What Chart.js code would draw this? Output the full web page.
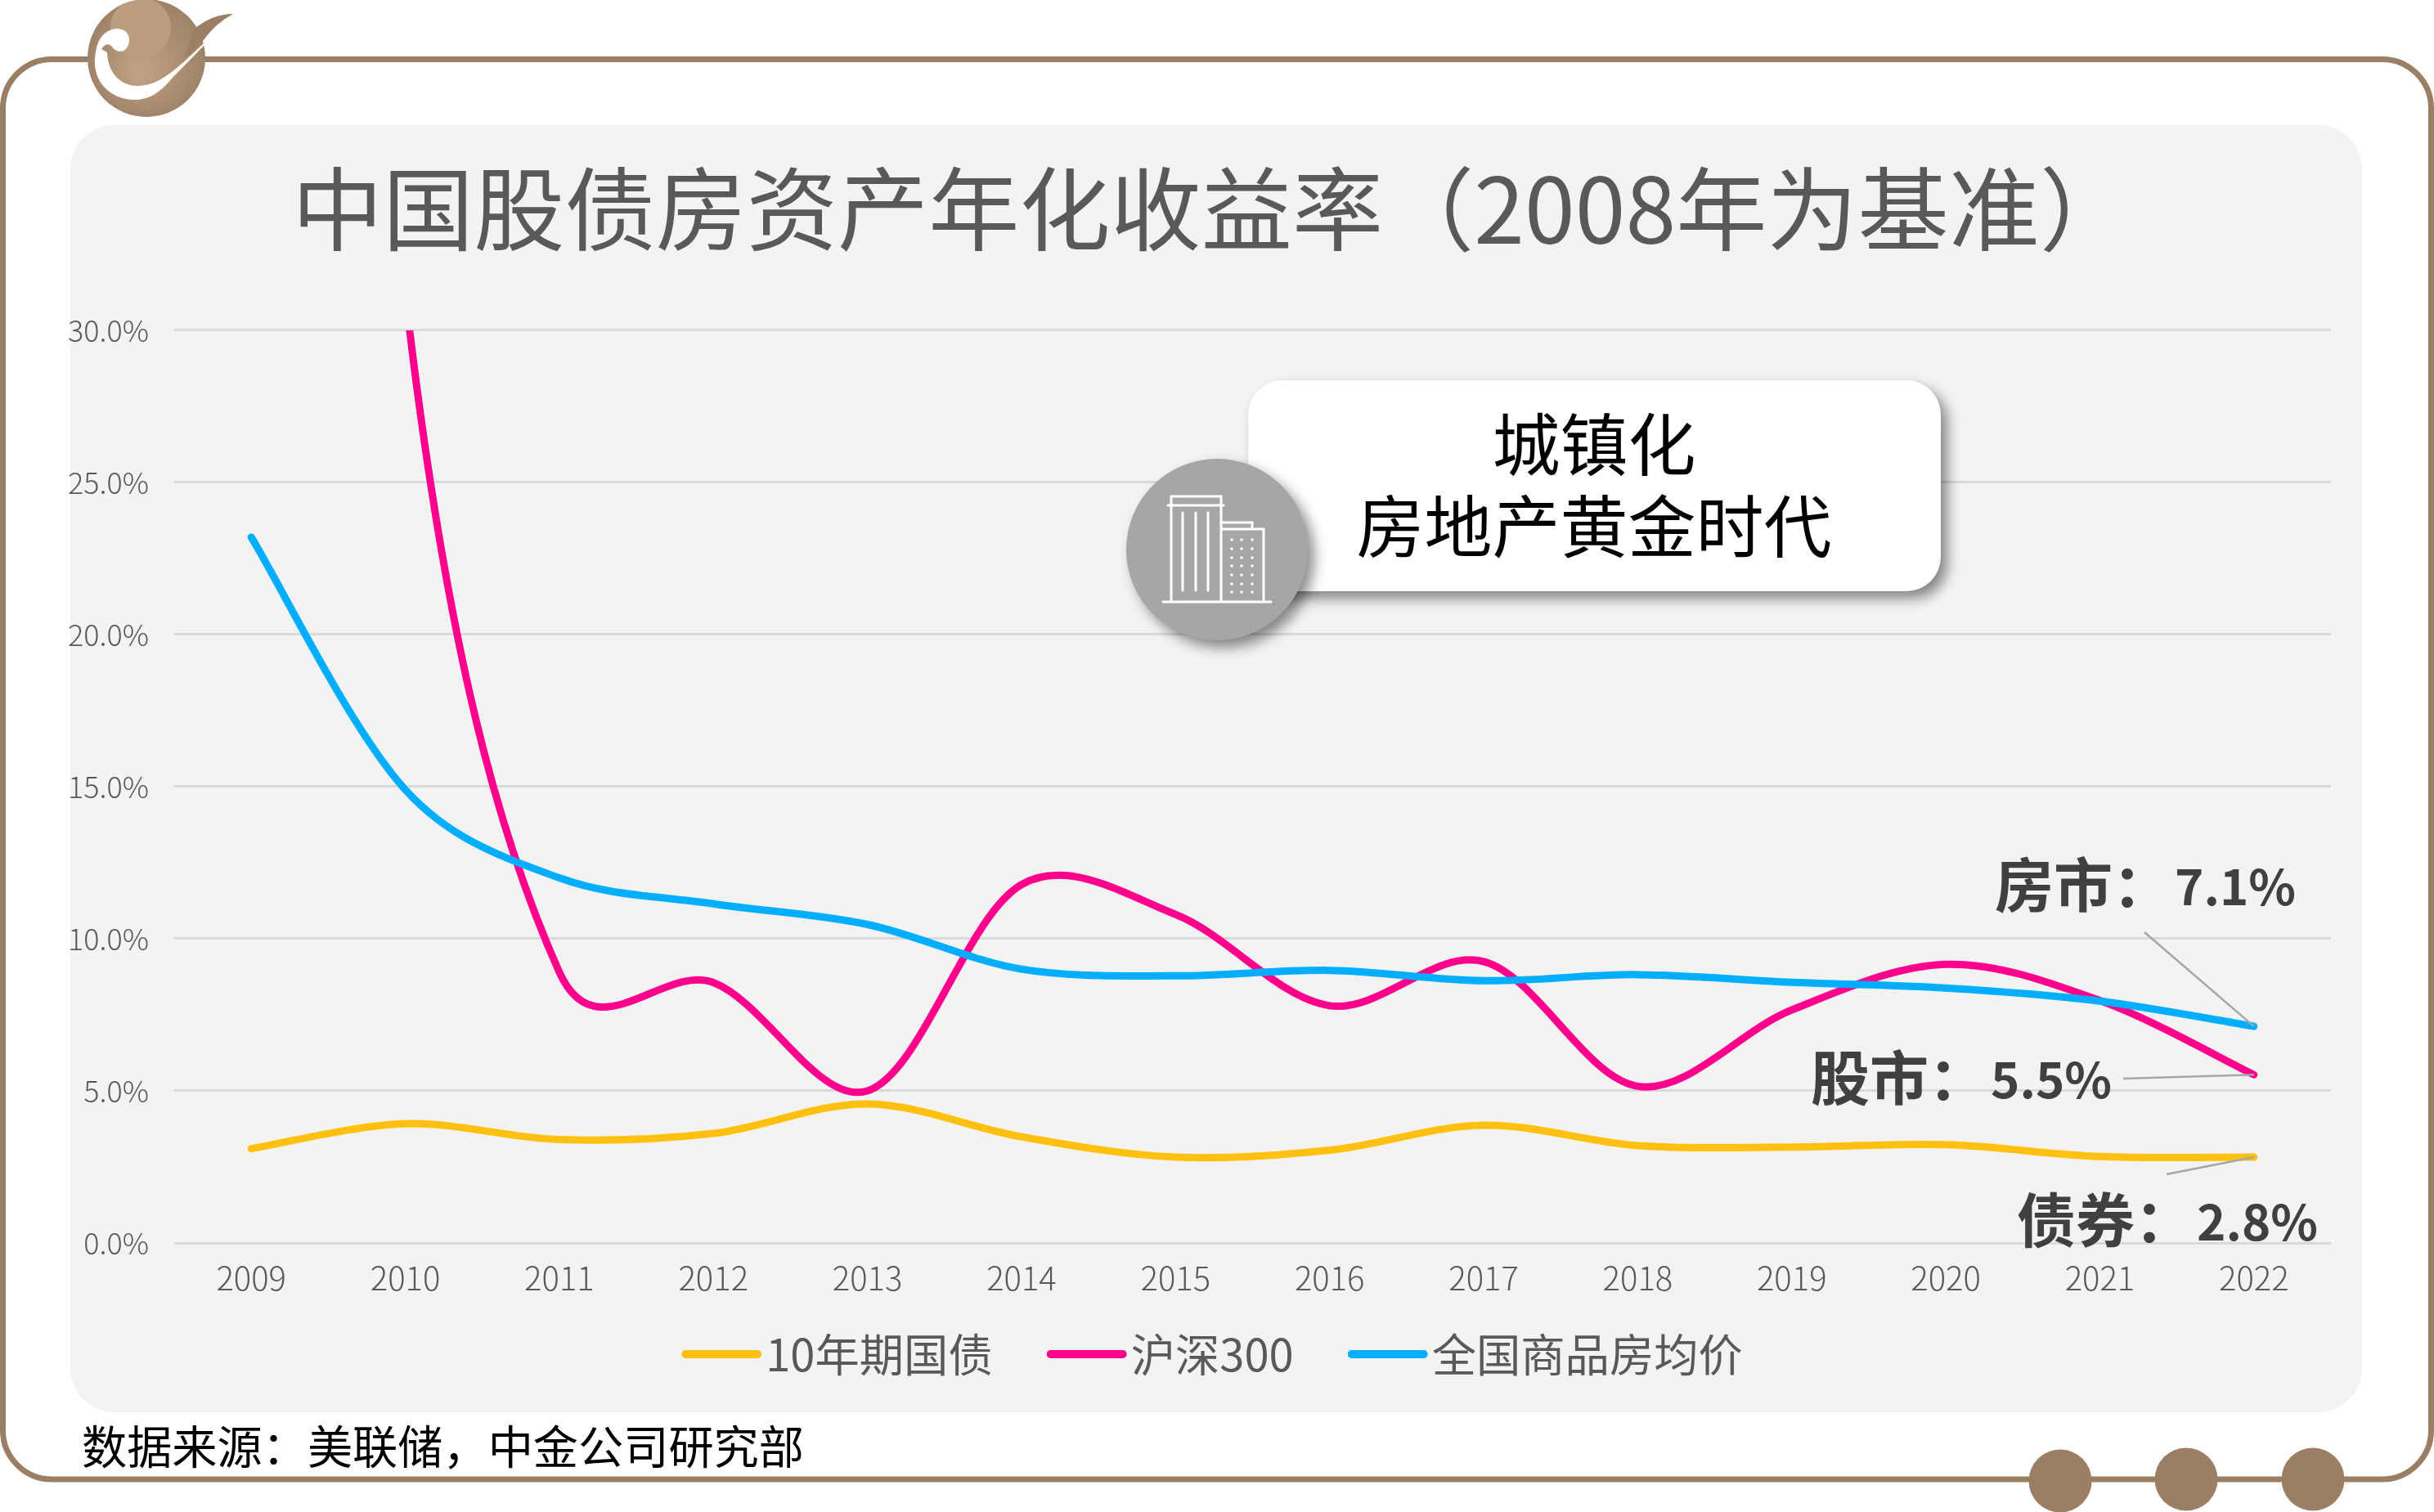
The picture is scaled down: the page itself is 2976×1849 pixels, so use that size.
<!DOCTYPE html>
<html lang="zh">
<head>
<meta charset="utf-8">
<title>中国股债房资产年化收益率</title>
<script src="https://cdn.jsdelivr.net/npm/chart.js@4"></script>
<style>
    html, body { margin: 0; padding: 0; background: #fff; }
    canvas { display: block; }
</style>
</head>
<body>
<canvas id="chartCanvas" width="2976" height="1849"></canvas>
<script>
const CJK_FONT = '"Noto Sans CJK SC", "Noto Sans", sans-serif';
const BROWN = '#9b7f65';

// Chart values
const years = ['2009', '2010', '2011', '2012', '2013', '2014', '2015', '2016', '2017', '2018', '2019', '2020', '2021', '2022'];
const bondValues = [3.1, 3.92, 3.4, 3.6, 4.57, 3.49, 2.82, 3.05, 3.87, 3.2, 3.15, 3.23, 2.84, 2.82];
// 2009 and 2010 are above the 30% axis limit and get clipped
const stockValues = [96.7, 31.2, 8.9, 8.56, 5.0, 11.78, 10.8, 7.8, 9.25, 5.15, 7.66, 9.16, 7.97, 5.53];
const houseValues = [23.2, 14.9, 12.0, 11.15, 10.47, 9.0, 8.78, 8.96, 8.62, 8.82, 8.57, 8.38, 7.95, 7.12];

const seriesNames = ['10年期国债', '沪深300', '全国商品房均价'];
const seriesColors = ['#ffc010', '#ff008c', '#00aeff'];

const chartTitle = '中国股债房资产年化收益率（2008年为基准）';
const sourceText = '数据来源：美联储，中金公司研究部';
const cardLines = ['城镇化', '房地产黄金时代'];
const calloutLabels = ['房市：', '股市：', '债券：'];
const calloutNumbers = ['7.1%', '5.5%', '2.8%'];

function roundRect(ctx, x, y, w, h, r) {
    ctx.beginPath();
    ctx.roundRect(x, y, w, h, r);
}

function drawLogo(ctx) {
    const grad = ctx.createRadialGradient(170, 90, 5, 179, 71, 80);
    grad.addColorStop(0, '#c0a283');
    grad.addColorStop(1, '#9b7f65');

    ctx.save();
    ctx.fillStyle = grad;
    ctx.beginPath();
    ctx.arc(179, 71, 72, 0, Math.PI * 2);
    ctx.fill();

    // wing
    ctx.fillStyle = BROWN;
    ctx.beginPath();
    ctx.moveTo(238, 35);
    ctx.quadraticCurveTo(260, 17, 285, 17);
    ctx.quadraticCurveTo(264, 28, 248, 50);
    ctx.lineTo(225, 72);
    ctx.closePath();
    ctx.fill();

    // lighter disc at the top
    ctx.save();
    ctx.beginPath();
    ctx.arc(179, 71, 72, 0, Math.PI * 2);
    ctx.clip();
    ctx.fillStyle = '#bb9e80';
    ctx.beginPath();
    ctx.arc(172, 34, 37, 0, Math.PI * 2);
    ctx.fill();
    ctx.restore();

    // white crescent with the bird
    ctx.fillStyle = '#fff';
    ctx.beginPath();
    ctx.moveTo(116, 72);
    ctx.quadraticCurveTo(118, 37, 143, 35);
    ctx.quadraticCurveTo(158, 36, 158, 50);
    ctx.quadraticCurveTo(156, 63, 146, 63);
    ctx.quadraticCurveTo(140, 62, 136, 56);
    ctx.quadraticCurveTo(130, 51, 124, 60);
    ctx.lineTo(131, 64);
    ctx.bezierCurveTo(132, 92, 150, 105, 168, 105);
    ctx.bezierCurveTo(195, 105, 215, 85, 249, 53);
    ctx.lineTo(249, 56);
    ctx.lineTo(210, 96);
    ctx.bezierCurveTo(195, 115, 180, 122, 165, 122);
    ctx.bezierCurveTo(135, 122, 114, 100, 116, 72);
    ctx.closePath();
    ctx.fill();
    ctx.restore();
}

function drawBuilding(ctx) {
    ctx.save();
    ctx.strokeStyle = '#fff';
    ctx.fillStyle = '#fff';
    ctx.lineWidth = 3;
    ctx.lineCap = 'round';
    const segments = [
        [1422, 736, 1554, 736],
        [1432, 736, 1432, 607], [1432, 607, 1493, 607], [1493, 607, 1493, 736],
        [1428, 618, 1496, 618],
        [1494, 639, 1531, 639], [1531, 639, 1531, 647],
        [1494, 647, 1545, 647], [1545, 647, 1545, 736],
        [1446, 627, 1446, 722], [1462, 627, 1462, 722], [1477, 627, 1477, 722]
    ];
    segments.forEach(function(s) {
        ctx.beginPath();
        ctx.moveTo(s[0], s[1]);
        ctx.lineTo(s[2], s[3]);
        ctx.stroke();
    });
    [1506, 1518, 1531].forEach(function(x) {
        [660, 671, 682, 692, 703, 714, 724].forEach(function(y) {
            ctx.beginPath();
            ctx.arc(x, y, 1.8, 0, Math.PI * 2);
            ctx.fill();
        });
    });
    ctx.restore();
}

function drawCard(ctx) {
    ctx.save();
    ctx.shadowColor = 'rgba(0, 0, 0, 0.45)';
    ctx.shadowBlur = 16;
    ctx.shadowOffsetX = 8;
    ctx.shadowOffsetY = 9;

    ctx.fillStyle = '#fff';
    roundRect(ctx, 1526, 465, 847, 258, 42);
    ctx.fill();

    ctx.fillStyle = '#a6a6a6';
    ctx.beginPath();
    ctx.arc(1488, 672, 111, 0, Math.PI * 2);
    ctx.fill();
    ctx.restore();

    drawBuilding(ctx);

    ctx.save();
    ctx.fillStyle = '#000';
    ctx.font = '83px ' + CJK_FONT;
    ctx.textAlign = 'center';
    ctx.textBaseline = 'middle';
    ctx.fillText(cardLines[0], 1949, 543);
    ctx.fillText(cardLines[1], 1949, 643);
    ctx.restore();
}

// Leader lines start next to the text and end on the last point of each line
function drawCallouts(chart) {
    const ctx = chart.ctx;
    const x = chart.scales.x;
    const y = chart.scales.y;
    const last = years.length - 1;
    const endX = x.getPixelForValue(last);
    const callouts = [
        { left: 2439, mid: 1082, fromX: 2622, fromY: 1140, value: houseValues[last] },
        { left: 2214, mid: 1318, fromX: 2596, fromY: 1319, value: stockValues[last] },
        { left: 2466, mid: 1492, fromX: 2649, fromY: 1436, value: bondValues[last] }
    ];

    ctx.save();
    callouts.forEach(function(c, i) {
        ctx.strokeStyle = '#a6a6a6';
        ctx.lineWidth = 2.5;
        ctx.beginPath();
        ctx.moveTo(c.fromX, c.fromY);
        ctx.lineTo(endX, y.getPixelForValue(c.value));
        ctx.stroke();

        ctx.fillStyle = '#404040';
        ctx.textAlign = 'left';
        ctx.textBaseline = 'middle';
        ctx.font = 'bold 72px ' + CJK_FONT;
        ctx.fillText(calloutLabels[i], c.left, c.mid);
        ctx.font = 'bold 60px ' + CJK_FONT;
        ctx.fillText(calloutNumbers[i], c.left + 220, c.mid + 2);
    });
    ctx.restore();
}

// Legend is custom: the built-in one leaves a wider gap after the swatch
function drawLegend(chart) {
    const ctx = chart.ctx;
    const swatchW = 98;
    const textGap = 5;
    const itemGap = 66;
    const mid = 1656;

    ctx.save();
    ctx.font = '54.3px ' + CJK_FONT;
    ctx.textAlign = 'left';
    ctx.textBaseline = 'middle';

    const widths = chart.data.datasets.map(function(ds) {
        return swatchW + textGap + ctx.measureText(ds.label).width;
    });
    const total = widths.reduce(function(a, b) { return a + b; }, 0) + itemGap * (widths.length - 1);
    let cursor = 1482 - total / 2;

    chart.data.datasets.forEach(function(ds, i) {
        ctx.fillStyle = ds.borderColor;
        roundRect(ctx, cursor, mid - 5, swatchW, 10, 5);
        ctx.fill();
        ctx.fillStyle = '#595959';
        ctx.fillText(ds.label, cursor + swatchW + textGap, mid);
        cursor += widths[i] + itemGap;
    });
    ctx.restore();
}

// Spreadsheet style smoothing: control points mostly from the neighbours,
// only weakly scaled by segment length (Chart.js scales them fully)
function smoothLines(chart) {
    const k = 1 / 6;
    chart.data.datasets.forEach(function(ds, i) {
        const meta = chart.getDatasetMeta(i);
        const pts = meta.data;
        pts.forEach(function(p, j) {
            const prev = pts[Math.max(j - 1, 0)];
            const next = pts[Math.min(j + 1, pts.length - 1)];
            const dPrev = Math.hypot(p.x - prev.x, p.y - prev.y);
            const dNext = Math.hypot(next.x - p.x, next.y - p.y);
            const sum = (dPrev + dNext) || 1;
            const fa = k * Math.cbrt(2 * dPrev / sum);
            const fb = k * Math.cbrt(2 * dNext / sum);
            p.cp1x = p.x - (next.x - prev.x) * fa;
            p.cp1y = p.y - (next.y - prev.y) * fa;
            p.cp2x = p.x + (next.x - prev.x) * fb;
            p.cp2y = p.y + (next.y - prev.y) * fb;
        });
        meta.dataset._pointsUpdated = true;
    });
}

const backgroundPlugin = {
    id: 'slideBackground',
    afterLayout(chart) {
        // the slide title sits a little right of the layout centre
        chart.titleBlock.left += 16;
        chart.titleBlock.right += 16;
    },
    afterDatasetsUpdate(chart) {
        smoothLines(chart);
    },
    beforeDraw(chart) {
        const ctx = chart.ctx;
        ctx.save();
        ctx.fillStyle = '#fff';
        ctx.fillRect(0, 0, chart.width, chart.height);

        // outer frame
        ctx.strokeStyle = BROWN;
        ctx.lineWidth = 7;
        roundRect(ctx, 3.5, 72.5, 2969, 1736.5, 60);
        ctx.stroke();

        // grey panel
        ctx.fillStyle = '#f3f3f3';
        roundRect(ctx, 86, 153, 2802, 1574, 54);
        ctx.fill();

        // three dots on the bottom edge
        ctx.fillStyle = BROWN;
        [[2519, 1811], [2673, 1809], [2828, 1809]].forEach(function(p) {
            ctx.beginPath();
            ctx.arc(p[0], p[1], 38.5, 0, Math.PI * 2);
            ctx.fill();
        });

        drawLogo(ctx);

        ctx.fillStyle = '#000';
        ctx.font = '55.2px ' + CJK_FONT;
        ctx.textAlign = 'left';
        ctx.textBaseline = 'middle';
        ctx.fillText(sourceText, 100, 1769);
        ctx.restore();
    },
    afterDraw(chart) {
        drawCard(chart.ctx);
        drawCallouts(chart);
        drawLegend(chart);
    }
};

function makeDataset(label, values, color, order) {
    return {
        label: label,
        data: values,
        borderColor: color,
        backgroundColor: color,
        borderWidth: 9,
        borderCapStyle: 'round',
        tension: 0.4,
        pointRadius: 0,
        fill: false,
        order: order
    };
}

const ctx = document.getElementById('chartCanvas').getContext('2d');

new Chart(ctx, {
    type: 'line',
    data: {
        labels: years,
        datasets: [
            makeDataset(seriesNames[0], bondValues, seriesColors[0], 2),
            makeDataset(seriesNames[1], stockValues, seriesColors[1], 1),
            makeDataset(seriesNames[2], houseValues, seriesColors[2], 0)
        ]
    },
    options: {
        responsive: false,
        animation: false,
        layout: { padding: { left: 80, right: 126, top: 0, bottom: 0 } },
        plugins: {
            legend: { display: false },
            tooltip: { enabled: false },
            title: {
                display: true,
                text: chartTitle,
                color: '#595959',
                font: { family: CJK_FONT, size: 111.2, weight: 'normal', lineHeight: 1.2 },
                padding: { top: 189, bottom: 81.5 }
            }
        },
        scales: {
            x: {
                offset: true,
                grid: { display: false },
                border: { display: false },
                ticks: {
                    color: '#595959',
                    padding: 11,
                    maxRotation: 0,
                    font: { family: CJK_FONT, size: 40, weight: '300' }
                },
                afterFit(scale) { scale.height = 329; }
            },
            y: {
                min: 0,
                max: 30,
                grid: { color: '#d9d9d9', lineWidth: 3, drawTicks: false },
                border: { display: false },
                ticks: {
                    stepSize: 5,
                    color: '#595959',
                    padding: 31,
                    font: { family: CJK_FONT, size: 36, weight: '300' },
                    callback: function(value) {
                        return value.toFixed(1) + '%';
                    }
                },
                afterFit(scale) { scale.width = 133; }
            }
        }
    },
    plugins: [backgroundPlugin]
});
</script>
</body>
</html>
